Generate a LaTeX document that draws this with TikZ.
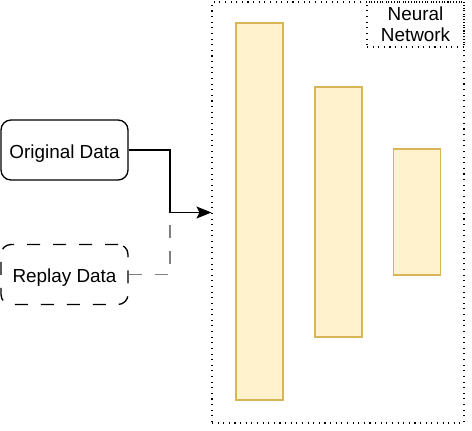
\documentclass[tikz,border=0pt]{standalone}
\usepackage{fontspec}
\setmainfont{Liberation Sans}
\usetikzlibrary{arrows.meta}
\definecolor{layerfill}{HTML}{FFF2CC}
\definecolor{layerdraw}{HTML}{D6B656}

\begin{document}
\begin{tikzpicture}[x=1cm,y=1cm,line width=0.75pt,
  font=\fontsize{10.75pt}{12pt}\selectfont,
  databox/.style={draw=black,rounded corners=0.2cm,minimum width=2.54cm,minimum height=1.2cm,inner sep=0pt,
    text height=0.4cm,text depth=0.06cm},
  replaybox/.style={databox,dash pattern=on 0.26cm off 0.26cm},
  layerbox/.style={draw=layerdraw,fill=layerfill,line width=0.6pt,minimum width=0.94cm,inner sep=0pt},
  dotbox/.style={draw=black,dash pattern=on 0.6pt off 2.6pt,line width=0.6pt,inner sep=0pt}]
\useasboundingbox (0,0) rectangle (9.44,8.6);
% network frame and its label
\node[dotbox,minimum width=5.04cm,minimum height=8.42cm] (nn) at (6.76,4.35) {};
\node[dotbox,minimum width=1.94cm,minimum height=0.9cm,align=center] (nnlabel) at (8.31,8.11) {Neural\\Network};
% layers
\node[layerbox,minimum height=7.54cm] (layer1) at (5.19,4.37) {};
\node[layerbox,minimum height=5.00cm] (layer2) at (6.77,4.36) {};
\node[layerbox,minimum height=2.52cm] (layer3) at (8.34,4.36) {};
% data sources
\node[databox] (orig) at (1.29,5.6) {Original Data};
\node[replaybox] (replay) at (1.29,3.11) {Replay Data};
\coordinate (merge) at (3.4,4.35);
\draw[-{Stealth[length=0.3cm,width=0.24cm,inset=0.06cm]}] (orig.east) -| (merge) -- (nn.west);
\draw[gray,dash pattern=on 0.26cm off 0.26cm] (replay.east) -| (merge);
\end{tikzpicture}
\end{document}
